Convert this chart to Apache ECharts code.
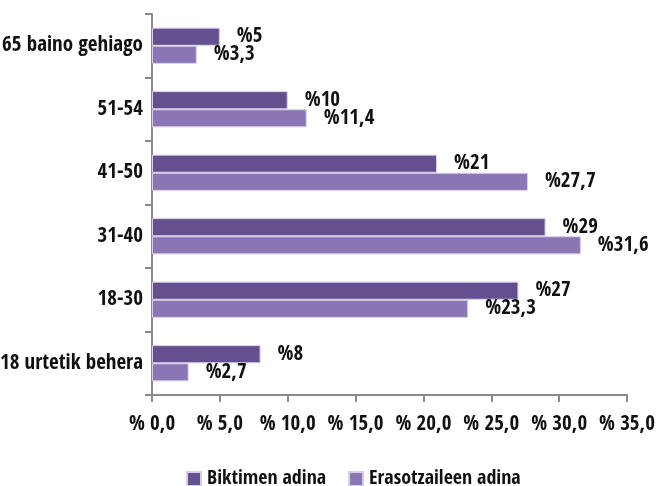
<!DOCTYPE html>
<html>
<head>
<meta charset="utf-8">
<script src="https://cdn.jsdelivr.net/npm/echarts@6/dist/echarts.min.js"></script>
<style>
  html, body { margin: 0; padding: 0; background: #fff; }
  #chart { width: 657px; height: 486px; }
</style>
</head>
<body>
<div id="chart"></div>
<script>
// Age groups, bottom to top
var categories = ['18 urtetik behera', '18-30', '31-40', '41-50', '51-54', '65 baino gehiago'];
// Victims' age (%)
var biktimenAdina = [8, 27, 29, 21, 10, 5];
// Aggressors' age (%)
var erasotzaileenAdina = [2.7, 23.3, 31.6, 27.7, 11.4, 3.3];
var xTicks = { min: 0, max: 35, interval: 5 };

var FONT = '"Open Sans Condensed", "Roboto Condensed", sans-serif';
var DARK = '#64508f';
var LIGHT = '#8a76b4';
var AXIS_GREY = '#8a8a8a';

function pct(v, digits) {
  var s = digits != null ? v.toFixed(digits) : String(v);
  return s.replace('.', ',');
}

var labelStyle = {
  show: true,
  position: 'right',
  distance: 17,
  fontFamily: FONT,
  fontWeight: 'bold',
  fontSize: 21,
  color: '#111',
  formatter: function (p) { return '%' + pct(p.value); }
};

var chart = echarts.init(document.getElementById('chart'), null, { renderer: 'canvas' });
chart.setOption({
  animation: false,
  textStyle: { fontFamily: FONT },
  grid: { left: 152, right: 30, top: 14, bottom: 91, containLabel: false, outerBoundsMode: 'none' },
  legend: {
    top: 469,
    left: 181,
    padding: [0, 5],
    data: ['Biktimen adina', 'Erasotzaileen adina'],
    itemWidth: 14,
    itemHeight: 14,
    itemGap: 22,
    icon: 'rect',
    textStyle: { fontFamily: FONT, fontWeight: 'bold', fontSize: 20, color: '#111', padding: [0, 0, 0, 1] }
  },
  xAxis: {
    type: 'value',
    min: xTicks.min,
    max: xTicks.max,
    interval: xTicks.interval,
    splitLine: { show: false },
    axisLine: { show: true, lineStyle: { color: AXIS_GREY, width: 2 } },
    axisTick: { show: true, length: 7, lineStyle: { color: AXIS_GREY, width: 2 } },
    axisLabel: {
      margin: 19,
      fontFamily: FONT,
      fontWeight: 'bold',
      fontSize: 21,
      color: '#111',
      hideOverlap: false,
      showMaxLabel: true,
      formatter: function (v) { return '% ' + pct(v, 1); }
    }
  },
  yAxis: {
    type: 'category',
    data: categories,
    axisLine: { show: true, lineStyle: { color: AXIS_GREY, width: 2 } },
    axisTick: { show: true, length: 7, lineStyle: { color: AXIS_GREY, width: 2 } },
    axisLabel: {
      margin: 9,
      fontFamily: FONT,
      fontWeight: 'bold',
      fontSize: 21,
      color: '#111'
    }
  },
  series: [
    {
      name: 'Biktimen adina',
      type: 'bar',
      data: biktimenAdina,
      barGap: '0%',
      barCategoryGap: '43%',
      itemStyle: { color: DARK, borderColor: '#d6cfe6', borderWidth: 1 },
      label: labelStyle
    },
    {
      name: 'Erasotzaileen adina',
      type: 'bar',
      data: erasotzaileenAdina,
      barGap: '0%',
      barCategoryGap: '43%',
      itemStyle: { color: LIGHT, borderColor: '#d6cfe6', borderWidth: 1 },
      label: labelStyle
    }
  ]
});
</script>
</body>
</html>
